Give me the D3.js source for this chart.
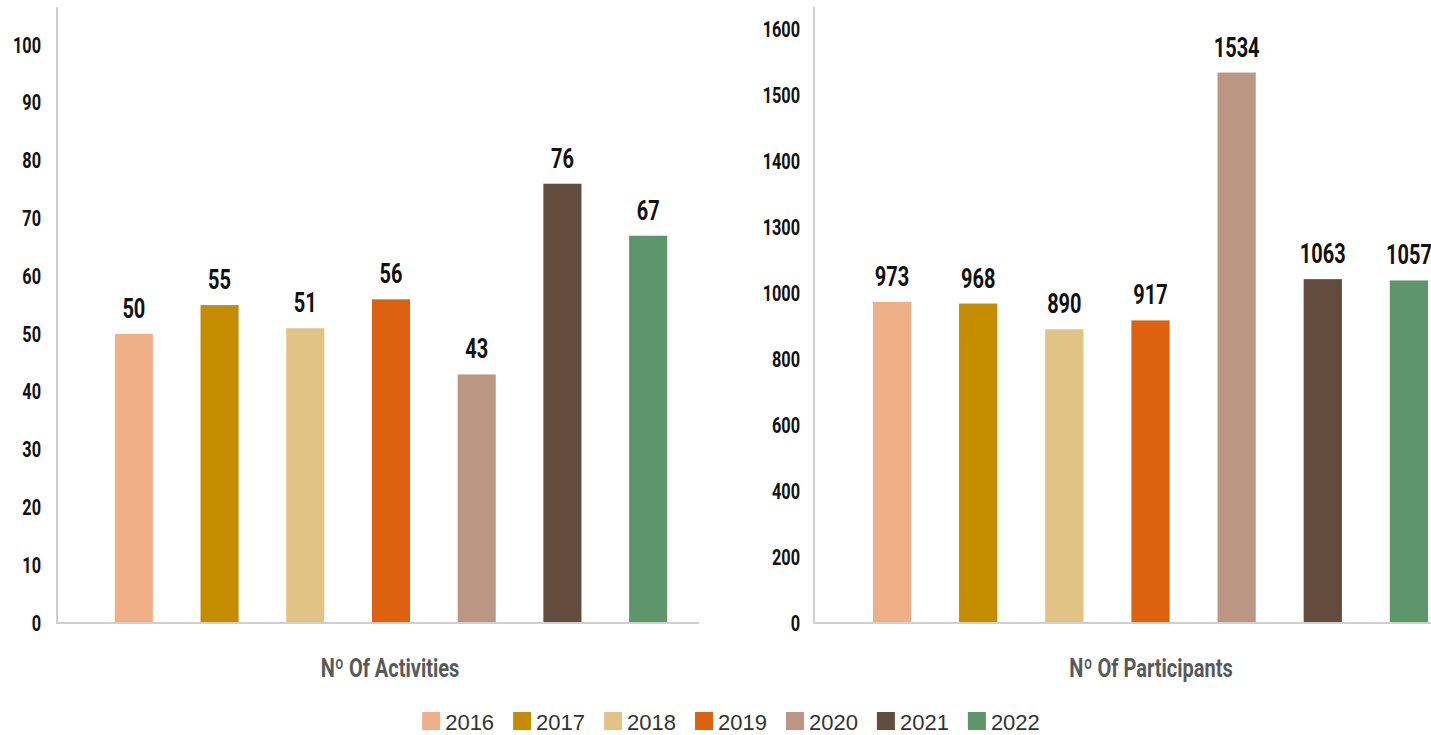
<!DOCTYPE html>
<html>
<head>
<meta charset="utf-8">
<script src="https://cdn.jsdelivr.net/npm/d3@7"></script>
<style>
  html, body { margin: 0; padding: 0; background: #fff; }
  svg { display: block; }
  .num { font-family: Roboto, "DejaVu Sans Condensed", sans-serif; font-weight: bold; }
  .legend text { font-family: "Liberation Sans", "DejaVu Sans", sans-serif; }
</style>
</head>
<body>
<div id="chart"></div>
<script>
// data
const years = ['2016', '2017', '2018', '2019', '2020', '2021', '2022'];
const yearColors = ['#F0B087', '#C48C00', '#E1C386', '#DD6210', '#BA9683', '#634C3D', '#5E956B'];
const activities = [50, 55, 51, 56, 43, 76, 67];
const participants = [973, 968, 890, 917, 1534, 1063, 1057];
const activityTicks = [0, 10, 20, 30, 40, 50, 60, 70, 80, 90, 100];
// the reference axis skips 1100 and 1200, ticks stay evenly spaced
const participantTicks = [0, 200, 400, 600, 800, 1000, 1300, 1400, 1500, 1600];

const width = 1431, height = 735;
const baseY = 623;

const svg = d3.select('#chart').append('svg')
  .attr('width', width)
  .attr('height', height);

const color = d3.scaleOrdinal().domain(years).range(yearColors);

// no condensed font installed, so squeeze the glyphs
function condense(sel, k) {
  sel.each(function () {
    const len = this.getComputedTextLength();
    d3.select(this)
      .attr('textLength', len * k)
      .attr('lengthAdjust', 'spacingAndGlyphs');
  });
}

function drawPanel(opts) {
  const g = svg.append('g');

  const step = (baseY - opts.topTick) / (opts.ticks.length - 1);
  const y = d3.scaleLinear()
    .domain(opts.ticks)
    .range(opts.ticks.map((d, i) => baseY - i * step));

  const x = d3.scaleBand()
    .domain(years)
    .range(opts.bandRange)
    .paddingInner(0.556)
    .paddingOuter(0.278);

  // y axis labels
  const axis = g.append('g')
    .attr('transform', `translate(${opts.axisX},0)`)
    .call(d3.axisLeft(y).tickValues(opts.ticks).tickSize(0).tickPadding(opts.pad).tickFormat(d3.format('d')));
  axis.select('.domain').remove();
  axis.selectAll('text')
    .attr('class', 'num')
    .attr('font-size', 22)
    .attr('fill', '#111')
    .call(condense, 0.74);

  g.append('g')
    .selectAll('rect')
    .data(opts.values)
    .join('rect')
    .attr('x', (d, i) => x(years[i]))
    .attr('y', d => y(d))
    .attr('width', x.bandwidth())
    .attr('height', d => baseY - y(d))
    .attr('fill', (d, i) => color(years[i]));

  g.append('g')
    .selectAll('text')
    .data(opts.values)
    .join('text')
    .attr('class', 'num')
    .attr('x', (d, i) => x(years[i]) + x.bandwidth() / 2)
    .attr('y', d => y(d) - 16)
    .attr('text-anchor', 'middle')
    .attr('font-size', 27)
    .attr('fill', '#111')
    .text(d => d)
    .call(condense, 0.74);

  // axis lines
  g.append('line')
    .attr('x1', opts.axisX).attr('x2', opts.axisX)
    .attr('y1', 7).attr('y2', baseY + 1)
    .attr('stroke', '#cfcfcf').attr('stroke-width', 2);
  g.append('line')
    .attr('x1', opts.axisX).attr('x2', opts.lineEnd)
    .attr('y1', baseY).attr('y2', baseY)
    .attr('stroke', '#cfcfcf').attr('stroke-width', 2);

  g.append('text')
    .attr('class', 'num')
    .attr('x', opts.titleX)
    .attr('y', 677)
    .attr('text-anchor', 'middle')
    .attr('font-size', 25)
    .attr('fill', '#595959')
    .text(opts.title)
    .call(condense, 0.8);
}

drawPanel({
  values: activities,
  ticks: activityTicks,
  topTick: 45,
  axisX: 57,
  pad: 16,
  lineEnd: 699,
  bandRange: [91, 691],
  titleX: 390,
  title: 'Nº Of Activities'
});

drawPanel({
  values: participants,
  ticks: participantTicks,
  topTick: 29,
  axisX: 814,
  pad: 14,
  lineEnd: 1431,
  bandRange: [849, 1452],
  titleX: 1151,
  title: 'Nº Of Participants'
});

// legend
const legend = svg.append('g').attr('class', 'legend');
const items = legend.selectAll('g')
  .data(years)
  .join('g');
items.append('rect')
  .attr('y', 712)
  .attr('width', 18)
  .attr('height', 18)
  .attr('fill', d => color(d));
items.append('text')
  .attr('x', 23)
  .attr('y', 730)
  .attr('font-size', 22)
  .attr('fill', '#333')
  .text(d => d);

const gap = 19;
let lx = 0;
const offsets = [];
items.each(function () {
  offsets.push(lx);
  const w = 23 + d3.select(this).select('text').node().getComputedTextLength();
  lx += w + gap;
});
const total = lx - gap;
const startX = 731 - total / 2;
items.attr('transform', (d, i) => `translate(${startX + offsets[i]},0)`);
</script>
</body>
</html>
